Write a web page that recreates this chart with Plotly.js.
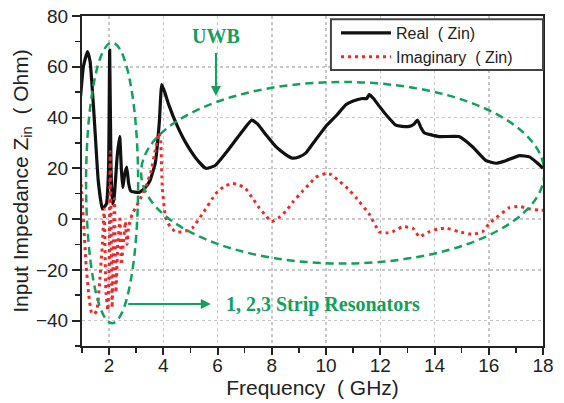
<!DOCTYPE html>
<html>
<head>
<meta charset="utf-8">
<script src="https://cdn.plot.ly/plotly-3.0.1.min.js"></script>
<style>html,body{margin:0;padding:0;background:#fff;}#chart{width:564px;height:403px;}</style>
</head>
<body>
<div id="chart"></div>
<script>
// Frequency (GHz) and real part of Zin (Ohm)
var realX = [0.95,1.05,1.2,1.3,1.45,1.6,1.75,1.9,1.98,2.02,2.07,2.12,2.18,2.3,2.39,2.45,2.5,2.58,2.65,2.72,2.8,3.1,3.3,3.5,3.7,3.85,3.94,4.05,4.2,4.5,4.83,5.2,5.56,5.9,6.3,6.8,7.26,7.47,7.8,8.15,8.5,8.76,9.0,9.25,9.6,9.99,10.4,10.73,11.0,11.34,11.5,11.59,11.75,11.96,12.3,12.57,12.8,13.07,13.25,13.37,13.5,13.62,14.17,14.9,15.4,15.9,16.27,16.63,17.13,17.5,17.8,18];
var realY = [48.5,60,66,62,40,15,4,6,20,66.5,20,6,8,25,32.5,20,12.5,18,20.5,14,11,10.5,12,15,22,38,53,50,45,37,30,24,20,21,26,33,39,37.5,33,28.5,25.5,24,24.5,26,31,36.5,41,45,46.5,47.5,47.5,49,47.5,44.5,40,37,36.5,36.5,37.5,39,36,34,32.5,32.5,28.5,23,22,23,25,24.5,22,20];
// Frequency (GHz) and imaginary part of Zin (Ohm)
var imagX = [0.95,1.05,1.15,1.25,1.35,1.45,1.55,1.65,1.75,1.82,1.88,1.95,2.0,2.04,2.08,2.11,2.16,2.2,2.25,2.32,2.4,2.45,2.52,2.6,2.66,2.72,2.85,2.98,3.15,3.35,3.55,3.7,3.84,3.9,3.96,4.08,4.25,4.45,4.75,5.07,5.44,5.93,6.25,6.55,6.8,7.04,7.3,7.53,7.8,8.0,8.25,8.51,8.8,9.13,9.4,9.62,9.99,10.2,10.48,10.8,11.1,11.59,11.96,12.2,12.45,12.82,13.19,13.44,13.8,14.1,14.42,14.9,15.4,15.77,16.0,16.27,16.76,17.13,17.5,17.86,18];
var imagY = [16.5,0,-18,-30,-37,-37.5,-36,-25,-10,4,-28,-36,-20,26.5,-10,-35,-10,8,-29,-10,0,-18,-10,-1,-10,-3,2,4.5,8,12.5,19,27,34,31,12.5,0.5,-3,-5,-5,-3.5,2,10,13,14,13.5,12,8,4.5,1,-1,0.5,3,7,11,14,16.5,18,17.5,15,12,8.5,2,-5,-5.5,-5,-3,-3.5,-7,-5,-4,-3.5,-5,-6,-5,-2,0.5,4.5,5,4,3.5,3.5];

var seriesNames = ['Real\u00a0\u00a0( Zin)', 'Imaginary\u00a0\u00a0( Zin)'];
var xTickVals = [2,4,6,8,10,12,14,16,18];
var yTickVals = [-40,-20,0,20,40,60,80];

// annotation geometry (GHz, Ohm)
var resonatorEllipse = {x0:1.15, x1:3.07, y0:-41, y1:69.5};
var uwbEllipse = {x0:3.18, x1:18.05, y0:-17.5, y1:54};
var green = '#12a05c';

var traces = [
  {x: realX, y: realY, name: seriesNames[0], type: 'scatter', mode: 'lines',
   line: {color: '#111', width: 3.2, shape: 'spline', smoothing: 0.4}},
  {x: imagX, y: imagY, name: seriesNames[1], type: 'scatter', mode: 'lines',
   line: {color: '#f0282a', width: 3, dash: '3px,4px', shape: 'spline', smoothing: 0.3}}
];

var tickFont = {family: 'Liberation Sans, Arial, sans-serif', size: 19, color: '#222'};
var titleFont = {family: 'Liberation Sans, Arial, sans-serif', size: 21, color: '#222'};
var noteFont = {family: 'Liberation Serif, Times New Roman, serif', size: 20, color: green};

var layout = {
  width: 564, height: 403,
  margin: {l: 82, r: 21, t: 16, b: 57},
  paper_bgcolor: '#fff', plot_bgcolor: '#fff',
  showlegend: true,
  legend: {x: 0.551, y: 1.0, xanchor: 'left', yanchor: 'top',
    bgcolor: 'rgba(0,0,0,0)', borderwidth: 0,
    font: {family: 'Liberation Sans, Arial, sans-serif', size: 16, color: '#222'},
    itemwidth: 50, tracegroupgap: 0},
  xaxis: {range: [1, 18], tickvals: xTickVals, ticks: 'outside', ticklen: 7, tickwidth: 2,
    tickcolor: '#222', showline: true, linecolor: '#222', linewidth: 2, mirror: true,
    showgrid: true, gridcolor: '#c8c8c8', griddash: 'dot', gridwidth: 1.5, zeroline: false,
    minor: {dtick: 1, tick0: 1, ticks: 'outside', ticklen: 5, tickwidth: 1.5, tickcolor: '#222', showgrid: false},
    tickfont: tickFont, ticklabelstandoff: -6,
    title: {text: 'Frequency\u00a0\u00a0( GHz)', font: titleFont, standoff: 2}},
  yaxis: {range: [-50, 80], tickvals: yTickVals, ticks: 'outside', ticklen: 8, tickwidth: 2,
    tickcolor: '#222', showline: true, linecolor: '#222', linewidth: 2, mirror: true,
    showgrid: true, gridcolor: '#c8c8c8', griddash: 'dot', gridwidth: 1.5, zeroline: false,
    minor: {dtick: 10, tick0: 0, ticks: 'outside', ticklen: 5, tickwidth: 1.5, tickcolor: '#222', showgrid: false},
    tickfont: tickFont,
    title: {text: 'Input Impedance Z<sub>in</sub>\u00a0\u00a0( Ohm)', font: titleFont, standoff: 2}},
  shapes: [
    {type: 'rect', xref: 'paper', yref: 'paper', x0: 0.54, x1: 1.0, y0: 0.836, y1: 0.99,
     fillcolor: '#fff', line: {color: '#444', width: 2}, layer: 'above'},
    {type: 'circle', xref: 'x', yref: 'y', x0: resonatorEllipse.x0, x1: resonatorEllipse.x1,
     y0: resonatorEllipse.y0, y1: resonatorEllipse.y1, line: {color: green, width: 2.5, dash: '8px,5px'}},
    {type: 'circle', xref: 'x', yref: 'y', x0: uwbEllipse.x0, x1: uwbEllipse.x1,
     y0: uwbEllipse.y0, y1: uwbEllipse.y1, line: {color: green, width: 2.5, dash: '8px,5px'}}
  ],
  annotations: [
    {x: 5.94, y: 72, xref: 'x', yref: 'y', text: '<b>UWB</b>', showarrow: false, font: noteFont},
    {x: 5.94, y: 48.5, ax: 5.94, ay: 66, xref: 'x', yref: 'y', axref: 'x', ayref: 'y',
     text: '', showarrow: true, arrowhead: 2, arrowsize: 1, arrowwidth: 2, arrowcolor: green},
    {x: 5.75, y: -33.5, ax: 2.65, ay: -33.5, xref: 'x', yref: 'y', axref: 'x', ayref: 'y',
     text: '', showarrow: true, arrowhead: 2, arrowsize: 1, arrowwidth: 2, arrowcolor: green},
    {x: 6.25, y: -33.5, xref: 'x', yref: 'y', xanchor: 'left', text: '<b>1, 2,3 Strip Resonators</b>', showarrow: false, font: noteFont}
  ]
};

Plotly.newPlot('chart', traces, layout, {displayModeBar: false, staticPlot: true});
</script>
</body>
</html>
